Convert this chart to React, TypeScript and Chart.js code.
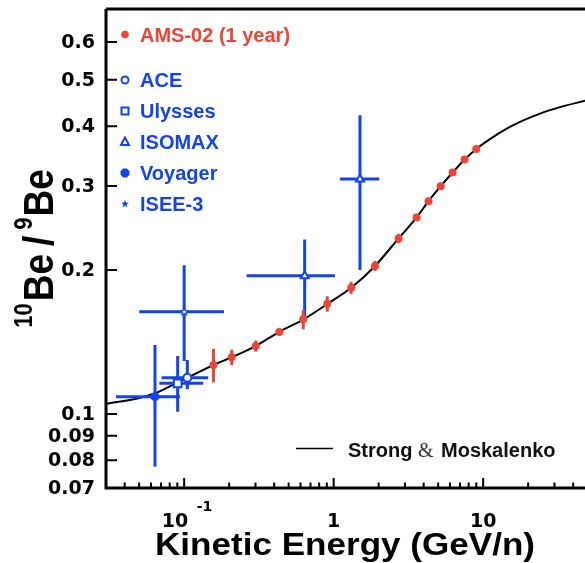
import React, { useEffect, useRef } from 'react';
import { Chart, registerables } from 'chart.js';

Chart.register(...registerables);

const RED = '#ee4433';
const BLUE = '#1144ee';

// Strong & Moskalenko model curve
const modelEnergy = [0.03, 0.05, 0.064, 0.09, 0.105, 0.157, 0.208, 0.3, 0.43, 0.63, 0.91, 1.31, 1.89, 2.72, 3.59, 4.31, 5.2, 6.25, 7.52, 9.0, 11.7, 15.9, 24, 34, 48];
const modelRatio = [0.105, 0.108, 0.1105, 0.1163, 0.119, 0.1266, 0.1314, 0.1387, 0.1484, 0.1578, 0.17, 0.1836, 0.204, 0.233, 0.2577, 0.2787, 0.2996, 0.32, 0.3406, 0.3585, 0.38, 0.402, 0.425, 0.44, 0.452];

// AMS-02 (1 year) projection
const amsEnergy = [0.157, 0.208, 0.301, 0.433, 0.626, 0.906, 1.31, 1.89, 2.72, 3.59, 4.31, 5.2, 6.25, 7.52, 8.99];
const amsRatio = [0.1266, 0.1314, 0.1387, 0.1484, 0.1578, 0.17, 0.1836, 0.204, 0.2329, 0.2577, 0.2787, 0.2996, 0.32, 0.3406, 0.3585];
const amsError = [0.0102, 0.0049, 0.0037, 0, 0.0074, 0.0063, 0.0053, 0.0049, 0.0053, 0, 0, 0, 0, 0, 0];

// ACE
const aceEnergy = [0.105];
const aceRatio = [0.1191];
const aceEnergyLow = [0.0706];
const aceEnergyHigh = [0.1447];
const aceRatioLow = [0.1126];
const aceRatioHigh = [0.1297];

// Ulysses
const ulyEnergy = [0.0905];
const ulyRatio = [0.1159];
const ulyEnergyLow = [0.0682];
const ulyEnergyHigh = [0.1342];
const ulyRatioLow = [0.1011];
const ulyRatioHigh = [0.1322];

// ISOMAX
const isoEnergy = [0.64, 1.5];
const isoRatio = [0.1945, 0.31];
const isoEnergyLow = [0.262, 1.1];
const isoEnergyHigh = [1.02, 2.02];
const isoRatioLow = [0.157, 0.2];
const isoRatioHigh = [0.2318, 0.4217];

// Voyager
const voyEnergy = [0.0638];
const voyRatio = [0.1087];
const voyEnergyLow = [0.035];
const voyEnergyHigh = [0.0937];
const voyRatioLow = [0.0776];
const voyRatioHigh = [0.1394];

// ISEE-3
const iseeEnergy = [0.1];
const iseeRatio = [0.1637];
const iseeEnergyLow = [0.0501];
const iseeEnergyHigh = [0.1846];
const iseeRatioLow = [0.129];
const iseeRatioHigh = [0.2046];

// Axes
const xMin = 0.03;
const xMax = 48;
const yMin = 0.07;
const yMax = 0.7;
const yTickValues = [0.07, 0.08, 0.09, 0.1, 0.2, 0.3, 0.4, 0.5, 0.6];
const yTickLabels = ['0.07', '0.08', '0.09', '0.1', '0.2', '0.3', '0.4', '0.5', '0.6'];
const xTickValues = [0.1, 1, 10];
const xTickBase = ['10', '1', '10'];
const xTickExp = ['-1', '', ''];

const AXIS_FONT = "'DejaVu Sans'";
const LEG_FONT = "'Liberation Sans', Arial, sans-serif";

function pts(xs: number[], ys: number[], xl?: number[], xh?: number[], yl?: number[], yh?: number[], err?: number[]) {
  return xs.map((x, i) => {
    const p: any = { x, y: ys[i] };
    if (xl && xh) { p.xMin = xl[i]; p.xMax = xh[i]; }
    if (yl && yh) { p.yMin = yl[i]; p.yMax = yh[i]; }
    if (err && err[i] > 0) { p.yMin = ys[i] - err[i]; p.yMax = ys[i] + err[i]; }
    return p;
  });
}

const errorBarPlugin = {
  id: 'errorBars',
  beforeDatasetDraw(chart: any, args: any) {
    const ds: any = chart.data.datasets[args.index];
    if (!ds.errorColor) return;
    const { ctx, scales } = chart;
    const x = scales.x, y = scales.y;
    ctx.save();
    ctx.strokeStyle = ds.errorColor;
    ctx.lineWidth = 3;
    ds.data.forEach((p: any) => {
      const px = x.getPixelForValue(p.x);
      const py = y.getPixelForValue(p.y);
      ctx.beginPath();
      if (p.yMin != null) {
        ctx.moveTo(px, y.getPixelForValue(p.yMin));
        ctx.lineTo(px, y.getPixelForValue(p.yMax));
      }
      if (p.xMin != null) {
        ctx.moveTo(x.getPixelForValue(p.xMin), py);
        ctx.lineTo(x.getPixelForValue(p.xMax), py);
      }
      ctx.stroke();
    });
    ctx.restore();
  },
};

function drawMarker(ctx: CanvasRenderingContext2D, kind: string, x: number, y: number, color: string) {
  ctx.save();
  ctx.fillStyle = color;
  ctx.strokeStyle = color;
  ctx.lineWidth = 2;
  ctx.beginPath();
  if (kind === 'dot') {
    ctx.arc(x, y, 3.8, 0, Math.PI * 2);
    ctx.fill();
  } else if (kind === 'ocircle') {
    ctx.arc(x, y, 3.5, 0, Math.PI * 2);
    ctx.stroke();
  } else if (kind === 'osquare') {
    ctx.rect(x - 3.5, y - 3.5, 7, 7);
    ctx.stroke();
  } else if (kind === 'otri') {
    ctx.moveTo(x, y - 4.5);
    ctx.lineTo(x - 4, y + 3);
    ctx.lineTo(x + 4, y + 3);
    ctx.closePath();
    ctx.stroke();
  } else if (kind === 'oct') {
    for (let i = 0; i < 8; i++) {
      const a = Math.PI / 8 + (i * Math.PI) / 4;
      const px = x + 4.8 * Math.cos(a), py = y + 4.8 * Math.sin(a);
      if (i === 0) ctx.moveTo(px, py); else ctx.lineTo(px, py);
    }
    ctx.closePath();
    ctx.fill();
  } else if (kind === 'star') {
    for (let i = 0; i < 10; i++) {
      const r = i % 2 === 0 ? 4 : 1.7;
      const a = -Math.PI / 2 + (i * Math.PI) / 5;
      const px = x + r * Math.cos(a), py = y + r * Math.sin(a);
      if (i === 0) ctx.moveTo(px, py); else ctx.lineTo(px, py);
    }
    ctx.closePath();
    ctx.fill();
  }
  ctx.restore();
}

const framePlugin = {
  id: 'frame',
  afterDraw(chart: any) {
    const { ctx, chartArea: a, scales } = chart;
    const x = scales.x, y = scales.y;
    ctx.save();
    // frame lines
    ctx.strokeStyle = '#000';
    ctx.lineWidth = 3;
    ctx.beginPath();
    ctx.moveTo(a.left, a.top - 1);
    ctx.lineTo(a.left, a.bottom);
    ctx.lineTo(a.right, a.bottom);
    ctx.moveTo(a.left, a.top - 1);
    ctx.lineTo(a.right, a.top - 1);
    ctx.stroke();

    // y ticks (inward)
    ctx.lineWidth = 2;
    ctx.beginPath();
    yTickValues.forEach((v) => {
      const py = y.getPixelForValue(v);
      ctx.moveTo(a.left, py);
      ctx.lineTo(a.left + 11, py);
    });
    // x ticks (inward)
    [0.01, 0.1, 1, 10].forEach((d) => {
      for (let m = 1; m <= 9; m++) {
        const v = m * d;
        if (v <= xMin * 1.001 || v >= xMax) continue;
        const px = x.getPixelForValue(v);
        const len = m === 1 ? 10 : 5.5;
        ctx.moveTo(px, a.bottom);
        ctx.lineTo(px, a.bottom - len);
      }
    });
    ctx.stroke();

    // y tick labels
    ctx.fillStyle = '#000';
    ctx.font = `bold 19px ${AXIS_FONT}`;
    ctx.textAlign = 'right';
    ctx.textBaseline = 'middle';
    yTickValues.forEach((v, i) => {
      ctx.fillText(yTickLabels[i], a.left - 11, y.getPixelForValue(v) + 1);
    });

    // x tick labels
    ctx.textBaseline = 'alphabetic';
    xTickValues.forEach((v, i) => {
      const px = x.getPixelForValue(v);
      ctx.font = `bold 19px ${AXIS_FONT}`;
      if (xTickExp[i]) {
        ctx.textAlign = 'right';
        ctx.fillText(xTickBase[i], px + 4, 527);
        ctx.font = `bold 14px ${AXIS_FONT}`;
        ctx.textAlign = 'left';
        ctx.fillText(xTickExp[i], px + 12.5, 511);
      } else {
        ctx.textAlign = 'center';
        ctx.fillText(xTickBase[i], px, 527);
      }
    });

    // x title (Helvetica-like, widened)
    ctx.save();
    ctx.font = `bold 31px ${LEG_FONT}`;
    ctx.textAlign = 'center';
    const xt = 'Kinetic Energy (GeV/n)';
    const xw = ctx.measureText(xt).width;
    ctx.translate(345, 555);
    ctx.scale(380 / xw, 1);
    ctx.fillText(xt, 0, 0);
    ctx.restore();

    // y title (rotated)
    const parts = [
      { t: '10', sup: true, gap: 2 },
      { t: 'Be', sup: false, gap: 8 },
      { t: '/', sup: false, gap: 6 },
      { t: '9', sup: true, gap: 1 },
      { t: 'Be', sup: false, gap: 0 },
    ];
    const fMain = `bold 37px ${LEG_FONT}`;
    const fSup = `bold 22px ${LEG_FONT}`;
    let total = 0;
    parts.forEach((p) => {
      ctx.font = p.sup ? fSup : fMain;
      total += ctx.measureText(p.t).width + p.gap;
    });
    ctx.save();
    ctx.translate(53, 248.5 + total / 2);
    ctx.rotate(-Math.PI / 2);
    ctx.scale(1, 1.13);
    ctx.textAlign = 'left';
    let cx = 0;
    parts.forEach((p) => {
      ctx.font = p.sup ? fSup : fMain;
      ctx.fillText(p.t, cx, p.sup ? -18.5 : 0);
      cx += ctx.measureText(p.t).width + p.gap;
    });
    ctx.restore();

    // legend top-left
    const legend = [
      { kind: 'dot', label: 'AMS-02 (1 year)', color: RED, y: 34.5 },
      { kind: 'ocircle', label: 'ACE', color: BLUE, y: 80 },
      { kind: 'osquare', label: 'Ulysses', color: BLUE, y: 111 },
      { kind: 'otri', label: 'ISOMAX', color: BLUE, y: 142 },
      { kind: 'oct', label: 'Voyager', color: BLUE, y: 173 },
      { kind: 'star', label: 'ISEE-3', color: BLUE, y: 204 },
    ];
    ctx.textAlign = 'left';
    legend.forEach((l) => {
      drawMarker(ctx, l.kind, 125, l.y, l.color);
      ctx.fillStyle = l.color;
      ctx.font = `bold 20px ${LEG_FONT}`;
      ctx.fillText(l.label, 140, l.y + 7.2);
    });

    // model legend
    ctx.strokeStyle = '#000';
    ctx.lineWidth = 1.5;
    ctx.beginPath();
    ctx.moveTo(296, 448.5);
    ctx.lineTo(333, 448.5);
    ctx.stroke();
    ctx.fillStyle = '#111';
    ctx.font = `bold 20px ${LEG_FONT}`;
    ctx.fillText('Strong', 348, 457);
    ctx.font = `20px 'Liberation Serif', serif`;
    ctx.fillStyle = '#333';
    ctx.fillText('&', 418, 457);
    ctx.fillStyle = '#111';
    ctx.font = `bold 20px ${LEG_FONT}`;
    ctx.fillText('Moskalenko', 441, 457);
    ctx.restore();
  },
};

export default function App() {
  const ref = useRef<HTMLCanvasElement>(null);
  useEffect(() => {
    const canvas = ref.current!;
    const star = document.createElement('canvas');
    star.width = 9;
    star.height = 9;
    const sctx = star.getContext('2d')!;
    sctx.strokeStyle = BLUE;
    sctx.fillStyle = '#ffffff';
    sctx.lineWidth = 1.2;
    sctx.beginPath();
    for (let i = 0; i < 10; i++) {
      const r = i % 2 === 0 ? 4 : 1.8;
      const ang = -Math.PI / 2 + (i * Math.PI) / 5;
      const px = 4.5 + r * Math.cos(ang), py = 4.7 + r * Math.sin(ang);
      if (i === 0) sctx.moveTo(px, py); else sctx.lineTo(px, py);
    }
    sctx.closePath();
    sctx.fill();
    sctx.stroke();

    const chart = new Chart(canvas, {
      type: 'scatter',
      data: {
        datasets: [
          {
            label: 'Strong & Moskalenko',
            data: pts(modelEnergy, modelRatio),
            showLine: true,
            borderColor: '#000',
            borderWidth: 2,
            pointRadius: 0,
            cubicInterpolationMode: 'monotone',
            order: 10,
          } as any,
          {
            label: 'Voyager',
            data: pts(voyEnergy, voyRatio, voyEnergyLow, voyEnergyHigh, voyRatioLow, voyRatioHigh),
            errorColor: BLUE,
            pointStyle: 'circle',
            pointRadius: 4.5,
            backgroundColor: BLUE,
            borderColor: BLUE,
            borderWidth: 0,
            order: 9,
          } as any,
          {
            label: 'ISEE-3',
            data: pts(iseeEnergy, iseeRatio, iseeEnergyLow, iseeEnergyHigh, iseeRatioLow, iseeRatioHigh),
            errorColor: BLUE,
            pointStyle: star,
            order: 8,
          } as any,
          {
            label: 'Ulysses',
            data: pts(ulyEnergy, ulyRatio, ulyEnergyLow, ulyEnergyHigh, ulyRatioLow, ulyRatioHigh),
            errorColor: BLUE,
            pointStyle: 'rect',
            pointRadius: 5.5,
            backgroundColor: '#fff',
            borderColor: BLUE,
            borderWidth: 2,
            order: 7,
          } as any,
          {
            label: 'ACE',
            data: pts(aceEnergy, aceRatio, aceEnergyLow, aceEnergyHigh, aceRatioLow, aceRatioHigh),
            errorColor: BLUE,
            pointStyle: 'circle',
            pointRadius: 4,
            backgroundColor: '#fff',
            borderColor: BLUE,
            borderWidth: 2,
            order: 6,
          } as any,
          {
            label: 'ISOMAX',
            data: pts(isoEnergy, isoRatio, isoEnergyLow, isoEnergyHigh, isoRatioLow, isoRatioHigh),
            errorColor: BLUE,
            pointStyle: 'triangle',
            pointRadius: 4.6,
            backgroundColor: '#fff',
            borderColor: BLUE,
            borderWidth: 2,
            order: 5,
          } as any,
          {
            label: 'AMS-02 (1 year)',
            data: pts(amsEnergy, amsRatio, undefined, undefined, undefined, undefined, amsError),
            errorColor: RED,
            pointStyle: 'circle',
            pointRadius: 4,
            backgroundColor: RED,
            borderColor: RED,
            borderWidth: 0,
            order: 1,
          } as any,
        ],
      },
      options: {
        responsive: false,
        animation: false,
        events: [],
        layout: { padding: { top: 10, right: 0, left: 0, bottom: 0 }, autoPadding: false } as any,
        plugins: {
          legend: { display: false },
          tooltip: { enabled: false },
          title: { display: false },
        },
        scales: {
          x: {
            type: 'logarithmic',
            min: xMin,
            max: xMax,
            ticks: { display: false },
            grid: { display: false },
            border: { display: false },
            afterFit: (s: any) => { s.height = 75; },
          },
          y: {
            type: 'logarithmic',
            min: yMin,
            max: yMax,
            ticks: { display: false },
            grid: { display: false },
            border: { display: false },
            afterFit: (s: any) => { s.width = 106; },
          },
        },
      },
      plugins: [errorBarPlugin, framePlugin],
    });
    return () => chart.destroy();
  }, []);
  return (
    <div style={{ position: 'absolute', left: 0, top: 0, width: 585, height: 563, background: '#fff' }}>
      <canvas ref={ref} width={585} height={563} style={{ display: 'block' }} />
    </div>
  );
}
